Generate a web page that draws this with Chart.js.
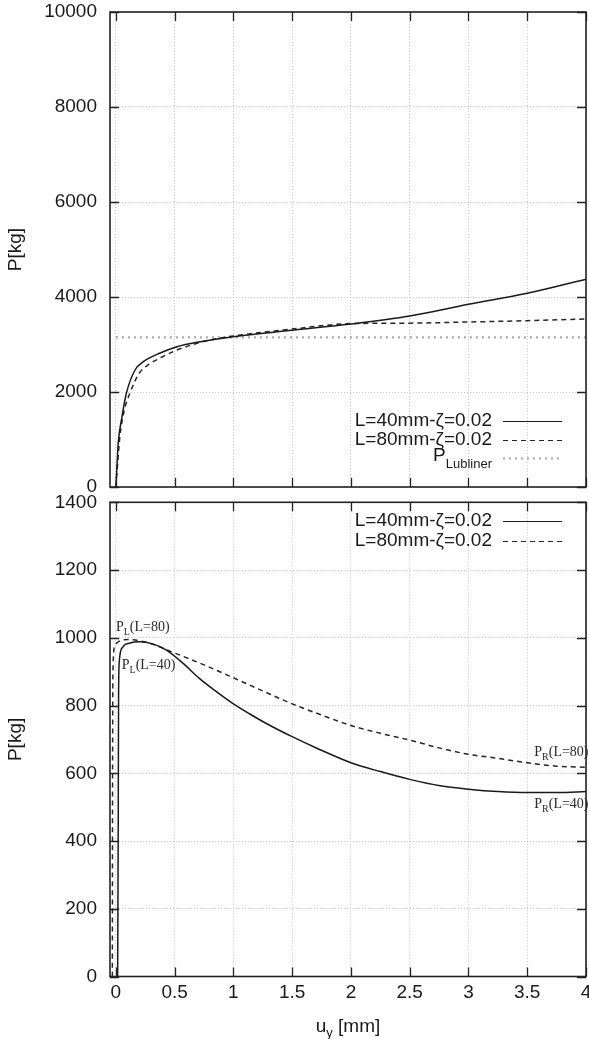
<!DOCTYPE html>
<html><head><meta charset="utf-8">
<script src="https://cdn.jsdelivr.net/npm/chart.js@4/dist/chart.umd.min.js"></script>
<style>
html,body{margin:0;padding:0;background:#fff;}
#wrap{position:relative;width:589px;height:1039px;overflow:hidden;background:#fff;}
#c1{position:absolute;left:0;top:0;}
#c2{position:absolute;left:0;top:490px;}
</style></head><body>
<div id="wrap">
<canvas id="c1" width="589" height="500"></canvas>
<canvas id="c2" width="589" height="549"></canvas>
</div>
<script>
// ---------- data ----------
const xTickVals = [0, 0.5, 1, 1.5, 2, 2.5, 3, 3.5, 4];
const yTicksTop = [0, 2000, 4000, 6000, 8000, 10000];
const yTicksBottom = [0, 200, 400, 600, 800, 1000, 1200, 1400];

// top panel
const topU40 = [0, 0.01, 0.02, 0.05, 0.09, 0.163, 0.234, 0.377, 0.52, 0.72, 1.0, 1.5, 2.0, 2.5, 3.0, 3.5, 4.0];
const topP40 = [0, 480, 926, 1450, 1979, 2463, 2638, 2821, 2954, 3059, 3165, 3300, 3432, 3600, 3846, 4077, 4373];
const topU80 = [0, 0.015, 0.034, 0.07, 0.12, 0.2, 0.28, 0.377, 0.52, 0.8, 1.0, 1.5, 2.0, 2.5, 3.0, 3.5, 4.0];
const topP80 = [0, 500, 1059, 1600, 1979, 2400, 2580, 2716, 2884, 3095, 3180, 3325, 3440, 3450, 3474, 3502, 3537];
const lublinerU = [0, 4];
const lublinerP = [3150, 3150];

// bottom panel
const botU40 = [0.015, 0.02, 0.023, 0.03, 0.057, 0.114, 0.2, 0.313, 0.427, 0.57, 0.71, 0.855, 1.0, 1.14, 1.28, 1.5, 1.71, 2.0, 2.25, 2.5, 2.76, 3.0, 3.25, 3.5, 3.76, 4.0];
const botP40 = [0, 450, 836, 934, 972, 984, 988, 982, 964, 925, 880, 841, 805, 775, 747, 708, 674, 631, 605, 582, 563, 553, 546, 543, 543, 546];
const botU80 = [-0.03, -0.028, -0.025, -0.01, 0.03, 0.1, 0.15, 0.3, 0.5, 0.75, 1.0, 1.25, 1.5, 1.75, 2.0, 2.25, 2.5, 2.75, 3.0, 3.25, 3.5, 3.75, 4.0];
const botP80 = [0, 600, 900, 975, 990, 995, 994, 982, 955, 920, 882, 843, 805, 772, 741, 718, 698, 675, 656, 644, 631, 621, 618];

const labels40 = 'L=40mm-ζ=0.02';
const labels80 = 'L=80mm-ζ=0.02';
const labelLub = ['P', 'Lubliner'];
const annotations = [
  {main: 'P', sub: 'L', rest: '(L=80)', x: 0.0, y: 1020},
  {main: 'P', sub: 'L', rest: '(L=40)', x: 0.05, y: 908},
  {main: 'P', sub: 'R', rest: '(L=80)', x: 3.56, y: 651},
  {main: 'P', sub: 'R', rest: '(L=40)', x: 3.56, y: 497}
];

// ---------- helpers ----------
const pts = (u, p) => u.map((v, i) => ({x: v, y: p[i]}));
const FONT = "'Liberation Sans', Arial, Helvetica, sans-serif";
const SERIF = "'Liberation Serif', 'Times New Roman', serif";
Chart.defaults.font.family = FONT;
Chart.defaults.font.size = 19;
Chart.defaults.color = '#1a1a1a';

const solidStyle = {borderColor: '#1a1a1a', borderWidth: 1.5, borderDash: []};
const dashStyle = {borderColor: '#262626', borderWidth: 1.5, borderDash: [5, 4]};
const dotStyle = {borderColor: '#a8a8a8', borderWidth: 2.4, borderDash: [2, 4]};

function ds(label, data, style) {
  return Object.assign({label, data, showLine: true, pointRadius: 0, fill: false,
    cubicInterpolationMode: 'monotone'}, style);
}

const framePlugin = {
  id: 'frame',
  afterDraw(chart, args, opts) {
    const {ctx, chartArea: a} = chart;
    const x = chart.scales.x, y = chart.scales.y;
    ctx.save();
    ctx.strokeStyle = '#222';
    ctx.lineWidth = 1.3;
    ctx.beginPath();
    xTickVals.forEach(v => {
      const px = Math.round(x.getPixelForValue(v)) + 0.5;
      ctx.moveTo(px, a.bottom); ctx.lineTo(px, a.bottom - 9);
      ctx.moveTo(px, a.top); ctx.lineTo(px, a.top + 9);
    });
    opts.yTicks.forEach(v => {
      const py = Math.round(y.getPixelForValue(v)) + 0.5;
      ctx.moveTo(a.left, py); ctx.lineTo(a.left + 9, py);
      ctx.moveTo(a.right, py); ctx.lineTo(a.right - 9, py);
    });
    ctx.stroke();
    ctx.lineWidth = 1.6;
    ctx.strokeRect(a.left, a.top, a.right - a.left, a.bottom - a.top);

    // legend
    ctx.textAlign = 'right';
    ctx.textBaseline = 'middle';
    (opts.legend || []).forEach(item => {
      const dset = chart.data.datasets[item.ds];
      ctx.fillStyle = '#1a1a1a';
      if (Array.isArray(item.text)) {
        ctx.font = '13px ' + FONT;
        const subW = ctx.measureText(item.text[1]).width;
        ctx.textAlign = 'right';
        ctx.fillText(item.text[1], opts.legendTextRight, item.y + 6);
        ctx.font = '19px ' + FONT;
        ctx.fillText(item.text[0], opts.legendTextRight - subW, item.y - 2);
      } else {
        ctx.font = '19px ' + FONT;
        ctx.fillText(item.text, opts.legendTextRight, item.y);
      }
      ctx.beginPath();
      ctx.strokeStyle = dset.borderColor;
      ctx.lineWidth = dset.borderWidth > 2 ? 1.8 : 1.1;
      ctx.setLineDash(dset.borderDash);
      ctx.moveTo(opts.sampleX0, item.y + 0.5);
      ctx.lineTo(opts.sampleX1, item.y + 0.5);
      ctx.stroke();
      ctx.setLineDash([]);
    });

    // annotations
    (opts.annotations || []).forEach(an => {
      let px = x.getPixelForValue(an.x);
      const py = y.getPixelForValue(an.y);
      ctx.textAlign = 'left';
      ctx.textBaseline = 'alphabetic';
      ctx.fillStyle = '#2a2a2a';
      ctx.font = '14px ' + SERIF;
      ctx.fillText(an.main, px, py);
      px += ctx.measureText(an.main).width;
      ctx.font = '10px ' + SERIF;
      ctx.fillText(an.sub, px, py + 4);
      px += ctx.measureText(an.sub).width;
      ctx.font = '14px ' + SERIF;
      ctx.fillText(an.rest, px, py);
    });

    // x axis title with subscript
    if (opts.xTitle) {
      const cx = (a.left + a.right) / 2;
      const base = opts.xTitleY;
      ctx.textAlign = 'left';
      ctx.textBaseline = 'alphabetic';
      ctx.fillStyle = '#1a1a1a';
      ctx.font = '19px ' + FONT;
      const wU = ctx.measureText('u').width;
      const wRest = ctx.measureText(' [mm]').width;
      ctx.font = '13px ' + FONT;
      const wY = ctx.measureText('y').width;
      let sx = cx - (wU + wY + wRest) / 2;
      ctx.font = '19px ' + FONT;
      ctx.fillText('u', sx, base);
      sx += wU;
      ctx.font = '13px ' + FONT;
      ctx.fillText('y', sx, base + 5);
      sx += wY;
      ctx.font = '19px ' + FONT;
      ctx.fillText(' [mm]', sx, base);
    }
    ctx.restore();
  }
};

function makeScales(yMin, yMax, yTicks, showX, xHeight) {
  return {
    x: {
      type: 'linear', min: -0.05, max: 4,
      afterBuildTicks: s => { s.ticks = xTickVals.map(v => ({value: v})); },
      afterFit: s => { s.height = xHeight; s.paddingLeft = 0; s.paddingRight = 0; },
      grid: {color: '#c4c4c4', lineWidth: 1, drawTicks: false},
      border: {display: false, dash: [1, 2]},
      ticks: {display: showX, padding: 5, maxRotation: 0, autoSkip: false,
        color: '#1a1a1a', font: {size: 19}, callback: v => String(v)}
    },
    y: {
      type: 'linear', min: yMin, max: yMax,
      afterBuildTicks: s => { s.ticks = yTicks.map(v => ({value: v})); },
      afterFit: s => { s.width = 110; s.paddingTop = 0; s.paddingBottom = 0; },
      grid: {color: '#c4c4c4', lineWidth: 1, drawTicks: false},
      border: {display: false, dash: [1, 2]},
      ticks: {padding: 13, color: '#1a1a1a', font: {size: 19}, callback: v => String(v)},
      title: {display: true, text: 'P[kg]', font: {size: 19}, color: '#1a1a1a', padding: {top: 4, bottom: 0}}
    }
  };
}

const common = {
  responsive: false, animation: false, events: [],
  plugins: {legend: {display: false}, tooltip: {enabled: false}}
};

new Chart(document.getElementById('c1'), {
  type: 'scatter',
  data: {datasets: [
    ds(labels40, pts(topU40, topP40), solidStyle),
    ds(labels80, pts(topU80, topP80), dashStyle),
    ds('P_Lubliner', pts(lublinerU, lublinerP), dotStyle)
  ]},
  options: Object.assign({}, common, {
    layout: {padding: {top: 12, right: 3, bottom: 0, left: 0}},
    scales: makeScales(0, 10000, yTicksTop, false, 13),
    plugins: Object.assign({}, common.plugins, {
      frame: {
        yTicks: yTicksTop,
        legendTextRight: 492, sampleX0: 503, sampleX1: 562,
        legend: [
          {text: labels40, ds: 0, y: 421},
          {text: labels80, ds: 1, y: 440},
          {text: labelLub, ds: 2, y: 458}
        ]
      }
    })
  }),
  plugins: [framePlugin]
});

new Chart(document.getElementById('c2'), {
  type: 'scatter',
  data: {datasets: [
    ds(labels40, pts(botU40, botP40), solidStyle),
    ds(labels80, pts(botU80, botP80), dashStyle)
  ]},
  options: Object.assign({}, common, {
    layout: {padding: {top: 12.3, right: 3, bottom: 0, left: 0}},
    scales: makeScales(0, 1400, yTicksBottom, true, 62.5),
    plugins: Object.assign({}, common.plugins, {
      frame: {
        yTicks: yTicksBottom,
        legendTextRight: 492, sampleX0: 503, sampleX1: 562,
        legend: [
          {text: labels40, ds: 0, y: 31},
          {text: labels80, ds: 1, y: 51}
        ],
        annotations: annotations,
        xTitle: true, xTitleY: 542
      }
    })
  }),
  plugins: [framePlugin]
});
</script>
</body></html>
